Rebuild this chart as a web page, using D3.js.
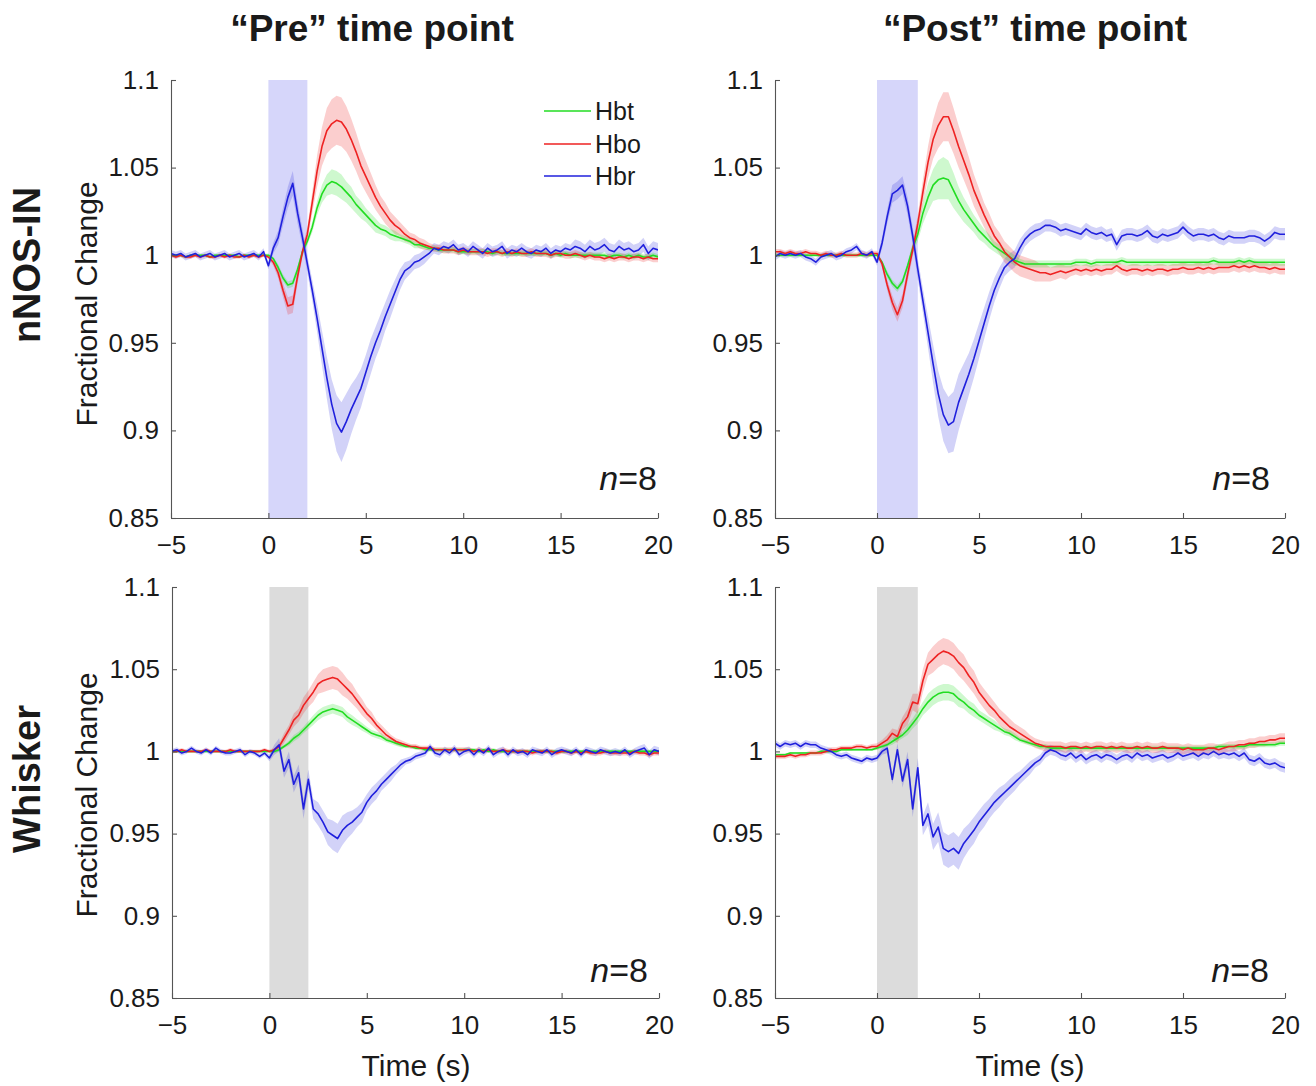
<!DOCTYPE html>
<html><head><meta charset="utf-8">
<script src="https://cdn.jsdelivr.net/npm/d3@7"></script>
<style>
body{margin:0;background:#fff}
svg{display:block}
text{font-family:"Liberation Sans",Arial,Helvetica,sans-serif;fill:#1a1a1a}
</style>
</head><body>
<svg id="chart" width="1316" height="1086"></svg>
<script>
// ---------- labels / ticks ----------
const columnTitles = ["\u201CPre\u201D time point", "\u201CPost\u201D time point"];
const rowTitles = ["nNOS-IN", "Whisker"];
const seriesNames = ["Hbt", "Hbo", "Hbr"];
const seriesColors = {Hbt: "#22dd22", Hbo: "#ee2222", Hbr: "#2020dd"};
const xTicks = [-5, 0, 5, 10, 15, 20];
const yTicks = [0.85, 0.9, 0.95, 1, 1.05, 1.1];
const yTickLabels = ["0.85", "0.9", "0.95", "1", "1.05", "1.1"];
const xTitle = "Time (s)";
const yTitle = "Fractional Change";
const nLabel = "8";
const stimWindow = [0, 2];
// sample grid: -5 s to 20 s every 0.25 s (101 samples)
const sampleTimes = d3.range(101).map(i => -5 + i * 0.25);

// ---------- data: deviation from 1 in units of 0.001 (mean and SEM) ----------
// nNOS-IN, Pre
const nnosPreHbt = [0,0,0,-1, 0,0,0,0, -1,0,0,0, 0,0,-1,0, 0,0,0,0,
 0,-2,-7,-13, -17,-16,-8,2, 8,16,27,35, 40,42,41,39, 36,33,29,26,
 23,20,17,15, 14,12,11,10, 9,8,6,6, 5,4,4,3, 3,3,3,2,
 2,2,2,2, 2,2,1,2, 1,1,1,1, 1,1,1,1, 1,1,0,1,
 0,1,0,0, 0,0,0,0, 0,0,-1,0, 0,-1,0,-1, 0,-1,-1,0,
 -1];
const nnosPreHbtSem = [0.7,0.7,0.7,0.7, 0.7,0.7,0.7,0.7, 0.7,0.7,0.7,0.7, 0.7,0.7,0.7,0.7, 0.7,0.7,0.7,0.7,
 1,1,2,2, 2,2,2,2, 2,3,4,5, 6,7,7,7, 6,6,5,5,
 4,4,4,3, 3,3,3,2, 2,2,2,2, 1.5,1.5,1.5,1.5, 1.5,1.5,1.5,1.5,
 1.5,1.5,1.5,1.5, 1.5,1.5,1.5,1.5, 1.5,1.5,1.5,1.5, 1.5,1.5,1.5,1.5, 1.5,1.5,1.5,1.5,
 1.5,1.5,1.5,1.5, 1.5,1.5,1.5,1.5, 1.5,1.5,1.5,1.5, 1.5,1.5,1.5,1.5, 1.5,1.5,1.5,1.5,
 1.5];
const nnosPreHbo = [0,-1,0,-1, -1,0,-1,0, -1,-1,0,-1, 0,-1,-1,0, -1,0,-1,0,
 -1,-4,-10,-20, -29,-28,-12,2, 12,30,48,62, 71,75,77,76, 72,66,59,51,
 45,39,33,28, 24,20,17,15, 12,10,9,7, 6,5,4,4, 3,3,3,2,
 3,2,2,2, 2,1,2,2, 1,2,1,2, 1,1,2,1, 1,1,0,1,
 1,0,0,1, 0,-1,0,-1, -1,-2,-1,-2, -1,-1,-2,-1, -1,-2,-1,-2,
 -2];
const nnosPreHboSem = [1,1,1,1, 1,1,1,1, 1,1,1,1, 1,1,1,1, 1,1,1,1,
 1,2,3,4, 5,5,4,3, 4,6,9,11, 13,14,14,14, 13,12,11,10,
 9,8,7,6, 6,5,5,4, 4,3,3,3, 3,2,2,2, 2,2,2,2,
 2,2,2,2, 2,2,2,2, 2,2,2,2, 2,2,2,2, 2,2,2,2,
 2,2,2,2, 2,2,2,2, 2,2,2,2, 2,2,2,2, 2,2,2,2,
 2];
const nnosPreHbr = [1,0,1,-1, 0,1,-1,0, 1,-1,0,1, -1,0,1,-1, 0,1,-1,2,
 -6,4,10,22, 33,41,24,10, -5,-20,-36,-53, -70,-85,-96,-101, -95,-88,-82,-76,
 -67,-58,-50,-43, -35,-28,-21,-14, -9,-7,-4,-3, -1,1,4,3, 5,4,6,3,
 4,2,5,3, 1,4,2,3, 5,1,3,2, 4,2,1,3, 2,4,1,3,
 2,4,3,5, 4,2,5,3, 4,6,3,2, 5,3,4,2, 3,6,1,4,
 3];
const nnosPreHbrSem = [2,2,2,2, 2,2,2,2, 2,2,2,2, 2,2,2,2, 2,2,2,2,
 2,3,4,5, 6,7,6,5, 5,6,8,10, 12,14,16,17, 16,14,12,11,
 10,10,9,9, 8,8,7,6, 5,4,4,4, 4,3,3,3, 3,3,3,3,
 3,3,3,3, 3,3,3,3, 3,3,3,3, 3,3,3,3, 3,3,3,3,
 3,3,3,4, 4,4,4,4, 4,4,4,4, 4,4,4,4, 4,4,4,4,
 4];

// nNOS-IN, Post
const nnosPostHbt = [0,0,0,0, 0,0,0,0, 0,0,0,0, 0,0,0,0, 0,0,0,0,
 0,-4,-11,-16, -19,-15,-6,4, 12,24,33,40, 43,44,43,37, 31,26,22,18,
 14,11,8,5, 3,1,-1,-3, -4,-5,-5,-5, -5,-5,-5,-5, -5,-5,-5,-4,
 -4,-4,-5,-4, -4,-4,-4,-4, -3,-4,-4,-4, -4,-4,-4,-4, -4,-4,-4,-4,
 -4,-4,-4,-4, -4,-4,-3,-4, -4,-4,-4,-3, -4,-3,-4,-4, -4,-4,-4,-4,
 -4];
const nnosPostHbtSem = [1,1,1,1, 1,1,1,1, 1,1,1,1, 1,1,1,1, 1,1,1,1,
 1,1,2,2, 2,2,2,3, 4,6,8,9, 11,12,11,10, 8,7,6,5,
 5,4,4,3, 3,3,3,3, 2,2,2,2, 2,2,2,2, 2,2,2,2,
 2,2,2,2, 2,2,2,2, 2,2,2,2, 2,2,2,2, 2,2,2,2,
 2,2,2,2, 2,2,2,2, 2,2,2,2, 2,2,2,2, 2,2,2,2,
 2];
const nnosPostHbo = [2,2,1,2, 1,1,2,1, 1,0,1,0, 0,1,0,0, 0,1,0,1,
 1,-5,-17,-27, -34,-26,-11,3, 18,36,53,66, 74,79,79,71, 62,54,46,37,
 30,23,17,11, 7,2,-1,-4, -6,-7,-8,-9, -10,-10,-11,-10, -9,-10,-9,-8,
 -9,-8,-9,-8, -9,-8,-8,-6, -8,-9,-8,-8, -9,-8,-9,-8, -8,-9,-8,-8,
 -7,-8,-8,-7, -8,-7,-8,-7, -7,-7,-6,-7, -6,-7,-6,-7, -7,-8,-7,-8,
 -8];
const nnosPostHboSem = [1.5,1.5,1.5,1.5, 1.5,1.5,1.5,1.5, 1.5,1.5,1.5,1.5, 1.5,1.5,1.5,1.5, 1.5,1.5,1.5,1.5,
 1.5,2,3,4, 4,4,4,4, 5,7,9,11, 13,14,14,13, 12,11,10,9,
 8,7,7,6, 6,6,6,6, 6,6,6,6, 5,5,4,4, 4,4,3,3,
 3,3,3,3, 3,3,3,3, 3,3,3,3, 3,3,3,3, 3,3,3,3,
 3,3,3,3, 3,3,3,3, 3,3,3,3, 3,3,3,3, 3,3,3,3,
 3];
const nnosPostHbr = [-1,1,0,1, 0,1,-1,-2, -4,-1,0,1, -1,0,2,3, 5,1,0,2,
 -4,7,22,35, 37,40,28,11, -8,-26,-44,-62, -79,-91,-97,-95, -84,-76,-68,-59,
 -49,-39,-29,-20, -13,-7,-4,-2, 4,9,12,14, 15,17,17,16, 14,15,14,13,
 12,15,13,12, 13,11,12,6, 11,12,12,11, 12,14,11,10, 12,11,12,13,
 16,13,11,12, 12,11,12,10, 9,11,10,10, 10,11,11,10, 8,10,13,12,
 12];
const nnosPostHbrSem = [2,2,2,2, 2,2,2,2, 2,2,2,2, 2,2,2,2, 2,2,2,2,
 2,3,4,5, 5,5,5,5, 6,7,9,11, 13,15,16,17, 16,14,12,11,
 10,9,8,7, 6,5,5,5, 5,4,4,4, 3.5,3.5,3.5,3.5, 3.5,3.5,3.5,3.5,
 3.5,3.5,3.5,3.5, 3.5,3.5,3.5,3.5, 3.5,3.5,3.5,3.5, 3.5,3.5,3.5,3.5, 3.5,3.5,3.5,3.5,
 3.5,3.5,3.5,3.5, 3.5,3.5,3.5,3.5, 3.5,3.5,3.5,3.5, 3.5,3.5,3.5,3.5, 3.5,3.5,3.5,3.5,
 3.5];

// Whisker, Pre
const whiskerPreHbt = [0,0,0,0, 0,0,0,0, 0,0,0,0, 0,0,0,0, 0,0,0,0,
 0,0,1,3, 5,8,10,13, 16,19,22,24, 25,26,25,24, 21,19,17,15,
 13,11,10,9, 7,6,5,4, 3,3,2,2, 1,1,1,1, 1,1,1,1,
 1,1,1,0, 1,0,1,0, 0,0,0,0, 0,0,0,0, 0,0,0,0,
 0,0,0,0, 0,0,0,0, 0,0,0,0, 0,0,0,0, 0,0,0,0,
 0];
const whiskerPreHbtSem = [0.5,0.5,0.5,0.5, 0.5,0.5,0.5,0.5, 0.5,0.5,0.5,0.5, 0.5,0.5,0.5,0.5, 0.5,0.5,0.5,0.5,
 0.5,1,1,1, 1.5,2,2,2, 2.5,3,3,3, 3,3,3,3, 3,3,2.5,2.5,
 2,2,2,2, 1.5,1.5,1.5,1.5, 1,1,1,1, 1,1,1,1, 1,1,1,1,
 1,1,1,1, 1,1,1,1, 1,1,1,1, 1,1,1,1, 1,1,1,1,
 1,1,1,1, 1,1,1,1, 1,1,1,1, 1,1,1,1, 1,1,1,1,
 1];
const whiskerPreHbo = [0,0,1,0, 0,0,0,1, 0,0,0,0, 1,0,0,0, 0,0,0,1,
 0,1,3,8, 13,19,22,28, 32,36,41,43, 44,45,44,41, 38,35,31,27,
 23,20,16,13, 10,8,6,5, 4,3,3,2, 2,2,1,1, 1,1,1,1,
 1,1,0,1, 0,1,0,0, 1,0,0,0, 0,0,-1,0, 0,0,0,-1,
 0,0,-1,0, -1,0,-1,-1, -1,0,-1,-1, -1,-1,-1,0, -1,-1,-2,-1,
 -1];
const whiskerPreHboSem = [1,1,1,1, 1,1,1,1, 1,1,1,1, 1,1,1,1, 1,1,1,1,
 1,1,2,3, 3,4,4,5, 5,6,6,7, 7,7,7,7, 6,6,5,5,
 4,4,3,3, 3,2,2,2, 1.5,1.5,1.5,1.5, 1.5,1.5,1.5,1.5, 1.5,1.5,1.5,1.5,
 1.5,1.5,1.5,1.5, 1.5,1.5,1.5,1.5, 1.5,1.5,1.5,1.5, 1.5,1.5,1.5,1.5, 1.5,1.5,1.5,1.5,
 1.5,1.5,1.5,1.5, 1.5,1.5,1.5,1.5, 1.5,1.5,1.5,1.5, 1.5,1.5,1.5,1.5, 1.5,1.5,1.5,1.5,
 1.5];
const whiskerPreHbr = [0,1,-1,0, 2,0,-1,1, -1,2,0,-1, -1,0,1,-2, 0,-1,-3,-1,
 -4,1,4,-12, -5,-20,-13,-35, -17,-35,-38,-43, -49,-51,-53,-48, -45,-43,-40,-37,
 -31,-27,-24,-20, -17,-14,-11,-8, -6,-5,-3,-2, -1,3,-1,-2, 1,-1,2,-2,
 0,1,-2,1, -1,2,-2,0, 1,-2,1,-1, 0,-2,1,0, -1,1,-2,0,
 1,0,-1,1, -2,1,0,-1, 1,0,-1,0, -1,1,-2,0, 1,2,-2,1,
 0];
const whiskerPreHbrSem = [1.5,1.5,1.5,1.5, 1.5,1.5,1.5,1.5, 1.5,1.5,1.5,1.5, 1.5,1.5,1.5,1.5, 1.5,1.5,1.5,1.5,
 2,3,4,4, 5,5,5,6, 6,6,7,7, 8,9,9,9, 8,7,6,6,
 5,5,5,4, 4,4,3,3, 2,2,2,2, 2,2,2,2, 2,2,2,2,
 2,2,2,2, 2,2,2,2, 2,2,2,2, 2,2,2,2, 2,2,2,2,
 2,2,2,2, 2,2,2,2, 2,2,2,2, 2,2,2,2, 2.5,2.5,2.5,2.5,
 2.5];

// Whisker, Post
const whiskerPostHbt = [-2,-2,-2,-1, -1,-1,-1,-1, -1,0,0,0, 0,1,1,1, 1,1,1,1,
 2,3,4,6, 8,10,13,17, 21,26,30,33, 35,36,36,35, 32,30,27,25,
 22,20,18,16, 14,12,11,9, 7,6,5,4, 3,3,2,2, 2,2,2,2,
 2,2,2,2, 2,2,2,2, 2,2,2,2, 2,2,2,2, 2,2,2,2,
 2,2,2,2, 2,2,2,3, 3,3,3,3, 3,4,4,4, 4,4,4,5,
 5];
const whiskerPostHbtSem = [0.7,0.7,0.7,0.7, 0.7,0.7,0.7,0.7, 0.7,0.7,0.7,0.7, 0.7,0.7,0.7,0.7, 0.7,0.7,0.7,0.7,
 1,1,1,2, 2,2,3,3, 4,4,5,5, 5,5,5,5, 5,4,4,4,
 3,3,3,3, 2,2,2,2, 1.5,1.5,1.5,1.5, 1.5,1.5,1.5,1.5, 1.5,1.5,1.5,1.5,
 1.5,1.5,1.5,1.5, 1.5,1.5,1.5,1.5, 1.5,1.5,1.5,1.5, 1.5,1.5,1.5,1.5, 1.5,1.5,1.5,1.5,
 1.5,1.5,1.5,1.5, 1.5,1.5,1.5,1.5, 1.5,1.5,1.5,1.5, 1.5,1.5,1.5,1.5, 1.5,1.5,1.5,1.5,
 1.5];
const whiskerPostHbo = [-3,-3,-3,-2, -3,-2,-2,-1, -1,-1,0,1, 1,2,2,2, 3,3,2,3,
 3,5,7,11, 9,17,21,30, 29,43,53,56, 59,61,60,58, 54,51,46,42,
 36,32,28,25, 21,18,15,13, 11,9,7,5, 4,3,3,3, 3,2,3,3,
 2,3,2,3, 3,2,3,2, 3,2,2,3, 2,3,2,2, 3,2,2,2,
 1,2,1,1, 1,2,2,1, 2,3,3,4, 4,5,5,6, 6,7,7,8,
 8];
const whiskerPostHboSem = [1.5,1.5,1.5,1.5, 1.5,1.5,1.5,1.5, 1.5,1.5,1.5,1.5, 1.5,1.5,1.5,1.5, 1.5,1.5,1.5,1.5,
 2,2,3,3, 4,4,5,5, 6,7,7,8, 8,8,8,8, 8,8,7,7,
 6,6,6,5, 5,5,5,4, 4,4,3,3, 3,3,3,3, 3,3,3,3,
 3,3,3,3, 3,3,3,3, 3,3,3,3, 3,3,3,3, 3,3,3,3,
 3,3,3,3, 3,3,3,3, 3,3,3,3, 3,3,3,3, 3,3,3,3,
 3];
const whiskerPostHbr = [5,3,5,4, 5,3,5,4, 4,2,1,0, -2,-3,-2,-4, -5,-6,-4,-5,
 -4,0,2,-17, 1,-18,-5,-35, -10,-45,-38,-52, -46,-59,-61,-59, -62,-56,-52,-48,
 -43,-39,-35,-31, -28,-25,-22,-19, -16,-13,-10,-7, -5,-1,1,0, -2,-3,-1,-4,
 -2,-5,-3,-2, -4,-2,-3,-5, -3,-2,-4,-1, -3,-2,-4,-3, -2,-4,-3,-1,
 -3,-2,-1,-3, -1,-2,0,-2, -1,-2,-1,-3, -1,-5,-6,-4, -7,-8,-7,-9,
 -10];
const whiskerPostHbrSem = [2,2,2,2, 2,2,2,2, 2,2,2,2, 2,2,2,2, 2,2,2,2,
 2,2,3,3, 4,4,5,5, 6,6,7,8, 9,10,10,10, 10,9,8,8,
 7,7,6,6, 6,5,5,5, 4,4,4,3, 3,3,3,3, 3,3,3,3,
 3,3,3,3, 3,3,3,3, 3,3,3,3, 3,3,3,3, 3,3,3,3,
 3,3,3,3, 3,3,3,3, 3,3,3,3, 3,3,3,3, 3,3,3,3,
 3];

// ---------- assemble ----------
const panelData = [
  {Hbt: [nnosPreHbt, nnosPreHbtSem], Hbo: [nnosPreHbo, nnosPreHboSem], Hbr: [nnosPreHbr, nnosPreHbrSem]},
  {Hbt: [nnosPostHbt, nnosPostHbtSem], Hbo: [nnosPostHbo, nnosPostHboSem], Hbr: [nnosPostHbr, nnosPostHbrSem]},
  {Hbt: [whiskerPreHbt, whiskerPreHbtSem], Hbo: [whiskerPreHbo, whiskerPreHboSem], Hbr: [whiskerPreHbr, whiskerPreHbrSem]},
  {Hbt: [whiskerPostHbt, whiskerPostHbtSem], Hbo: [whiskerPostHbo, whiskerPostHboSem], Hbr: [whiskerPostHbr, whiskerPostHbrSem]}
];

// layout (pixels)
const panelLayout = [
  {x0: 171, x1: 658, y0: 80, y1: 518, stim: "#d6d6fa", legend: true, nx: 657, ny: 490},
  {x0: 775, x1: 1285, y0: 80, y1: 518, stim: "#d6d6fa", legend: false, nx: 1270, ny: 490},
  {x0: 172, x1: 659, y0: 587, y1: 998, stim: "#dcdcdc", legend: false, nx: 648, ny: 982},
  {x0: 775, x1: 1285, y0: 587, y1: 998, stim: "#dcdcdc", legend: false, nx: 1269, ny: 982}
];

const svg = d3.select("#chart");
const toVal = d => 1 + d / 1000;

panelLayout.forEach((L, pi) => {
  const data = panelData[pi];
  const x = d3.scaleLinear().domain([-5, 20]).range([L.x0, L.x1]);
  const y = d3.scaleLinear().domain([0.85, 1.1]).range([L.y1, L.y0]);
  const g = svg.append("g");

  // stimulus window
  g.append("rect")
    .attr("x", x(stimWindow[0])).attr("y", y(1.1))
    .attr("width", x(stimWindow[1]) - x(stimWindow[0]))
    .attr("height", y(0.85) - y(1.1))
    .attr("fill", L.stim);

  const clipId = "clip" + pi;
  g.append("clipPath").attr("id", clipId).append("rect")
    .attr("x", L.x0).attr("y", L.y0).attr("width", L.x1 - L.x0).attr("height", L.y1 - L.y0);
  const plot = g.append("g").attr("clip-path", `url(#${clipId})`);

  // SEM bands
  ["Hbr", "Hbo", "Hbt"].forEach(name => {
    const [mean, sem] = data[name];
    if (mean.length !== sampleTimes.length || sem.length !== sampleTimes.length) console.warn(pi, name, mean.length, sem.length);
    const pts = sampleTimes.map((t, i) => ({t, m: mean[i], s: sem[i]}));
    const area = d3.area()
      .x(d => x(d.t))
      .y0(d => y(toVal(d.m - d.s)))
      .y1(d => y(toVal(d.m + d.s)));
    plot.append("path").datum(pts).attr("d", area)
      .attr("fill", seriesColors[name]).attr("fill-opacity", name === "Hbr" ? 0.2 : 0.22);
  });

  // mean lines
  ["Hbt", "Hbo", "Hbr"].forEach(name => {
    const [mean] = data[name];
    const pts = sampleTimes.map((t, i) => ({t, m: mean[i]}));
    const line = d3.line().x(d => x(d.t)).y(d => y(toVal(d.m)));
    plot.append("path").datum(pts).attr("d", line)
      .attr("fill", "none").attr("stroke", seriesColors[name])
      .attr("stroke-width", 1.6).attr("stroke-linejoin", "round");
  });

  // axes
  const yAxis = d3.axisLeft(y).tickValues(yTicks)
    .tickFormat((d, i) => yTickLabels[i]).tickSize(-5).tickSizeOuter(0).tickPadding(12);
  const xAxis = d3.axisBottom(x).tickValues(xTicks)
    .tickFormat(d3.format("d")).tickSize(-5).tickSizeOuter(0).tickPadding(18);
  const ya = g.append("g").attr("transform", `translate(${L.x0},0)`).call(yAxis);
  const xa = g.append("g").attr("transform", `translate(0,${L.y1})`).call(xAxis);
  [ya, xa].forEach(a => {
    a.select(".domain").attr("stroke", "#555").attr("stroke-width", 1.1);
    a.selectAll(".tick line").attr("stroke", "#555").attr("stroke-width", 1.1);
    a.selectAll(".tick text").attr("font-size", 26).attr("fill", "#262626")
      .attr("font-family", "'Liberation Sans', Arial, sans-serif");
  });

  // n = 8
  const nt = g.append("text").attr("x", L.nx).attr("y", L.ny)
    .attr("text-anchor", "end").attr("font-size", 34);
  nt.append("tspan").attr("font-style", "italic").text("n");
  nt.append("tspan").text("=" + nLabel);

  // legend
  if (L.legend) {
    const legendY = [111, 144, 176];
    seriesNames.forEach((name, i) => {
      g.append("line").attr("x1", 544).attr("x2", 591)
        .attr("y1", legendY[i]).attr("y2", legendY[i])
        .attr("stroke", seriesColors[name]).attr("stroke-width", 1.6);
      g.append("text").attr("x", 595).attr("y", legendY[i] + 9)
        .attr("font-size", 25).text(name);
    });
  }
});

// column titles
[372, 1035].forEach((cx, i) => {
  svg.append("text").attr("x", cx).attr("y", 41).attr("text-anchor", "middle")
    .attr("font-size", 37).attr("font-weight", "bold").attr("fill", "#000").text(columnTitles[i]);
});

// row titles
[265, 779].forEach((cy, i) => {
  svg.append("text").attr("transform", `translate(40,${cy}) rotate(-90)`)
    .attr("text-anchor", "middle").attr("font-size", 38).attr("font-weight", "bold")
    .attr("fill", "#000").text(rowTitles[i]);
});

// y-axis titles
[304, 795].forEach(cy => {
  svg.append("text").attr("transform", `translate(97,${cy}) rotate(-90)`)
    .attr("text-anchor", "middle").attr("font-size", 30).attr("fill", "#262626").text(yTitle);
});

// x-axis titles
[416, 1030].forEach(cx => {
  svg.append("text").attr("x", cx).attr("y", 1076).attr("text-anchor", "middle")
    .attr("font-size", 30).attr("fill", "#262626").text(xTitle);
});
</script>
</body></html>
